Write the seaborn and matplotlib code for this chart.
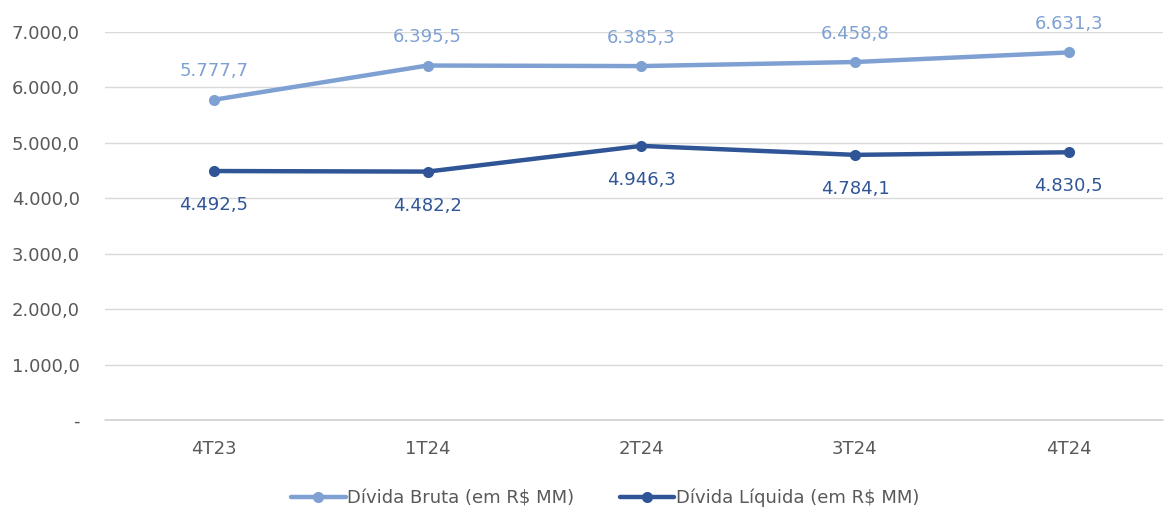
import seaborn as sns
import matplotlib.pyplot as plt
import pandas as pd
from matplotlib.ticker import FuncFormatter

periodos = ["4T23", "1T24", "2T24", "3T24", "4T24"]
divida_bruta = [5777.7, 6395.5, 6385.3, 6458.8, 6631.3]
divida_liquida = [4492.5, 4482.2, 4946.3, 4784.1, 4830.5]
series = ["Dívida Bruta (em R$ MM)", "Dívida Líquida (em R$ MM)"]
cores = ["#7FA0D2", "#2F5597"]

df = pd.DataFrame({
    "periodo": periodos * 2,
    "valor": divida_bruta + divida_liquida,
    "serie": [series[0]] * 5 + [series[1]] * 5,
})

sns.set_style("white")
plt.rcParams["font.family"] = ["DejaVu Sans"]

fig = plt.figure(figsize=(11.65, 5.08), dpi=100)
ax = fig.add_axes([0.090, 0.173, 0.908, 0.764])

sns.lineplot(data=df, x="periodo", y="valor", hue="serie", palette=cores,
             marker="o", markersize=8, linewidth=3.2, markeredgewidth=0,
             sort=False, ax=ax)


def fmt(v):
    s = f"{v:,.1f}"
    return s.replace(",", "X").replace(".", ",").replace("X", ".")


for i, v in enumerate(divida_bruta):
    ax.annotate(fmt(v), (i, v), xytext=(0, 14), textcoords="offset points",
                ha="center", va="bottom", fontsize=13, color=cores[0])
for i, v in enumerate(divida_liquida):
    ax.annotate(fmt(v), (i, v), xytext=(0, -18), textcoords="offset points",
                ha="center", va="top", fontsize=13, color=cores[1])

ax.set_ylim(0, 7000)
ax.set_xlim(-0.51, 4.44)
ax.set_yticks(range(0, 7001, 1000))
ax.yaxis.set_major_formatter(FuncFormatter(lambda v, p: "-" if v == 0 else fmt(v)))
ax.grid(axis="y", color="#D9D9D9", linewidth=1)
ax.axhline(0, color="#D0D0D0", linewidth=1.2, clip_on=False, zorder=0)
ax.set_axisbelow(True)
for s in ax.spines.values():
    s.set_visible(False)
ax.tick_params(axis="both", length=0, labelsize=13, labelcolor="#595959")
ax.tick_params(axis="y", pad=18)
ax.tick_params(axis="x", pad=14)
ax.set_xlabel("")
ax.set_ylabel("")

ax.legend(loc="upper center", bbox_to_anchor=(0.473, -0.135), ncol=2, frameon=False,
          fontsize=13, labelcolor="#595959", handlelength=3, handletextpad=0.1,
          columnspacing=2.5)

fig.savefig("out.png", dpi=100)
